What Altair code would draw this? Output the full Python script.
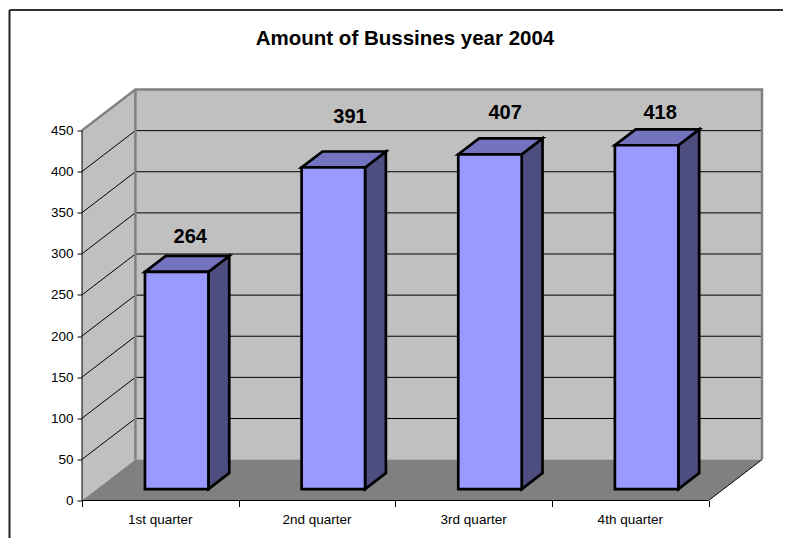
import altair as alt
import pandas as pd

quarters = ["1st quarter", "2nd quarter", "3rd quarter", "4th quarter"]
amounts = [264, 391, 407, 418]
y_ticks = [0, 50, 100, 150, 200, 250, 300, 350, 400, 450]
title_text = "Amount of Bussines year 2004"

# oblique projection of the 3-D box, in data units
DX, DY = 0.341, 49.7        # full depth of the box
Z0, Z1 = 0.28, 0.67         # depth range of each bar
BAR_W = 0.405
BAR_SHIFT = 0.009
YMAX = 450
label_lift = [15.5, 35, 23, 12]    # hand-placed labels: height above the bar's rear top
label_shift = [0.02, 0.04, 0.03, 0.02]

WALL, FLOOR = "#C0C0C0", "#808080"
FRONT, SIDE, TOP = "#9999FF", "#4D4D80", "#7373BF"
FONT = "Liberation Sans"


def face(rows, name, fill):
    return [dict(x=x, ya=y, yb=y2, i=i, face=name, fill=fill) for i, (x, y, y2) in enumerate(rows)]


def path(points, name):
    return [dict(x=x, y=y, i=i, path=name) for i, (x, y) in enumerate(points)]


back = []
back += face([(0, 0, YMAX), (DX, DY, YMAX + DY)], "left", WALL)
back += face([(DX, DY, YMAX + DY), (4 + DX, DY, YMAX + DY)], "back", WALL)
back += face([(0, 0, 0), (DX, 0, DY), (4, 0, DY), (4 + DX, DY, DY)], "floor", FLOOR)

grid = []
for v in y_ticks[1:-1]:
    grid += path([(0, v), (DX, v + DY), (4 + DX, v + DY)], f"g{v}")

edges_gray = path([(0, YMAX), (DX, YMAX + DY), (4 + DX, YMAX + DY), (4 + DX, DY)], "rim")
edges_gray += path([(DX, DY), (DX, YMAX + DY)], "corner")
edges_black = path([(0, YMAX), (0, 0), (4, 0), (4 + DX, DY)], "axis")

bars = []
labels = []
for k, (q, v) in enumerate(zip(quarters, amounts)):
    c = k + 0.5 + Z0 * DX + BAR_SHIFT
    x0, x1 = c - BAR_W / 2, c + BAR_W / 2
    yb, yt = Z0 * DY, v + Z0 * DY
    ddx, ddy = (Z1 - Z0) * DX, (Z1 - Z0) * DY
    bars += face([(x1, yb, yt), (x1 + ddx, yb + ddy, yt + ddy)], f"side{k}", SIDE)
    bars += face([(x0, yt, yt), (x0 + ddx, yt, yt + ddy), (x1, yt, yt + ddy), (x1 + ddx, yt + ddy, yt + ddy)], f"top{k}", TOP)
    bars += face([(x0, yb, yt), (x1, yb, yt)], f"front{k}", FRONT)
    labels.append(dict(x=c + ddx / 2 + label_shift[k], y=yt + ddy + label_lift[k], t=str(v)))

cats = [dict(x=k + 0.5, y=0, t=q) for k, q in enumerate(quarters)]

xscale = alt.Scale(domain=[0, 4 + DX], nice=False, zero=False)
yscale = alt.Scale(domain=[0, YMAX + DY], nice=False, zero=False)
X = alt.X("x:Q", scale=xscale, title=None,
          axis=alt.Axis(values=[0, 1, 2, 3, 4], labels=False, domain=False, grid=False,
                        tickColor="#000000", tickSize=6, tickWidth=1))
Y = alt.Y("y:Q", scale=yscale, title=None,
          axis=alt.Axis(values=y_ticks, domain=False, grid=False, tickColor="#000000", tickSize=5,
                        tickWidth=1, labelFont=FONT, labelFontSize=13.5, labelColor="#000000",
                        labelPadding=4, format="d"))
Ya = alt.Y("ya:Q", scale=yscale, title=None, stack=None)
Fill = alt.Color("fill:N", scale=None, legend=None)
Ord = alt.Order("i:Q")

back_l = alt.Chart(pd.DataFrame(back)).mark_area(opacity=1).encode(
    x=X, y=Ya, y2="yb:Q", color=Fill, detail="face:N")
grid_l = alt.Chart(pd.DataFrame(grid)).mark_line(color="#000000", strokeWidth=1).encode(
    x=X, y=Y, detail="path:N", order=Ord)
gray_l = alt.Chart(pd.DataFrame(edges_gray)).mark_line(color="#808080", strokeWidth=2.5).encode(
    x=X, y=Y, detail="path:N", order=Ord)
black_l = alt.Chart(pd.DataFrame(edges_black)).mark_line(color="#000000", strokeWidth=1).encode(
    x=X, y=Y, detail="path:N", order=Ord)
bars_l = alt.Chart(pd.DataFrame(bars)).mark_area(
    opacity=1, stroke="#000000", strokeWidth=2.7, strokeJoin="miter").encode(
    x=X, y=Ya, y2="yb:Q", color=Fill, detail="face:N")
lab_l = alt.Chart(pd.DataFrame(labels)).mark_text(
    font=FONT, fontSize=20, fontWeight="bold", color="#000000", align="center", baseline="alphabetic").encode(
    x=X, y=Y, text="t:N")
cat_l = alt.Chart(pd.DataFrame(cats)).mark_text(
    font=FONT, fontSize=13.5, color="#000000", align="center", baseline="alphabetic", dy=23).encode(
    x=X, y=Y, text="t:N")

frame_top = alt.Chart().mark_rule(color="#333333", strokeWidth=2).encode(
    x=alt.value(-72.5), x2=alt.value(709), y=alt.value(-79.5))
frame_left = alt.Chart().mark_rule(color="#222222", strokeWidth=2).encode(
    x=alt.value(-72.5), y=alt.value(-79.5), y2=alt.value(450))

chart = alt.layer(frame_top, frame_left, back_l, grid_l, gray_l, black_l, bars_l, lab_l, cat_l).properties(
    width=680, height=411,
    title=alt.TitleParams(title_text, font=FONT, fontSize=20.5, fontWeight="bold", color="#000000",
                          anchor="middle", dx=-17, offset=-40),
    autosize=alt.AutoSizeParams(type="none"),
    padding={"left": 74, "top": 81.5, "right": 21, "bottom": 37},
).configure_view(strokeWidth=0)

chart.save("out.html", embed_options={"renderer": "svg", "actions": False})
